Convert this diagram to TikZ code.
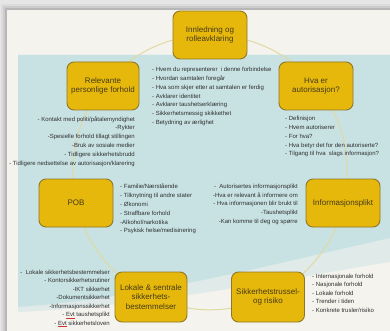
\documentclass[tikz,border=0pt]{standalone}
\usepackage{fontspec}
\setmainfont{Liberation Sans}
\definecolor{outerbg}{HTML}{E6E6E6}
\definecolor{slidebg}{HTML}{F4F3EE}
\definecolor{bluebg}{HTML}{C8E2E3}
\definecolor{ringcol}{HTML}{E0D9A2}
\definecolor{boxfill}{HTML}{E6B80C}
\definecolor{boxedge}{HTML}{8E7828}
\definecolor{boxtext}{HTML}{463A16}
\definecolor{listtext}{HTML}{2F2F2F}
\definecolor{spellred}{HTML}{D03030}
\newcommand\spellerr[1]{{\color{spellred}\underline{\color{listtext}#1}}}
\begin{document}
\begin{tikzpicture}[x=1pt,y=-1pt,
  stage/.style={draw=boxedge, line width=0.9pt, fill=boxfill, rounded corners=7pt,
    minimum width=74pt, minimum height=48pt, align=center, text=boxtext,
    font=\fontsize{8}{9.5}\selectfont, inner sep=2pt},
  itemsl/.style={anchor=north west, align=left, inner sep=0pt, text=listtext,
    font=\fontsize{6}{8.8}\selectfont},
  itemsr/.style={anchor=north east, align=right, inner sep=0pt, text=listtext,
    font=\fontsize{6}{8.8}\selectfont},
  tight/.style={font=\fontsize{6}{8.5}\selectfont}
]
\useasboundingbox (0,0) rectangle (390,331);
% background and slide with shadow
\fill[outerbg] (0,0) rectangle (390,331);
\foreach \d/\o in {6/0.04,4/0.07,2/0.10} {
  \fill[black,opacity=\o] (7-\d,10-\d) rectangle (395,336);
}
\fill[slidebg] (7,10) rectangle (395,336);
% blue band with soft lower edge
\fill[bluebg, opacity=0.45] (18,55) -- (390,55) -- (390,262)
  .. controls (280,280) and (150,306) .. (18,312) -- cycle;
\fill[bluebg] (18,55) -- (390,55) -- (390,238)
  .. controls (280,262) and (150,298) .. (18,307) -- cycle;
% ring
\draw[ringcol, line width=1pt] (210,172.4) circle [radius=137.4pt];

% stages
\node[stage] (intro) at (210,35) {Innledning og\\rolleavklaring};
\node[stage, minimum width=72pt] (pers) at (103,86) {Relevante\\personlige forhold};
\node[stage] (auth) at (316,86) {Hva er\\autorisasjon?};
\node[stage] (pob) at (76,203) {POB};
\node[stage] (info) at (343,203) {Informasjonsplikt};
\node[stage, minimum width=72pt, minimum height=50pt] (lok) at (151,297) {Lokale \& sentrale\\sikkerhets-\\bestemmelser};
\node[stage, minimum width=73pt, minimum height=50pt] (risk) at (268,297) {Sikkerhetstrussel-\\og risiko};

% lists
\node[itemsl] (introlist) at (152,67.1) {- Hvem du representerer \ i denne forbindelse\\- Hvordan samtalen foregår\\- Hva som skjer etter at samtalen er ferdig\\- Avklarer identitet\\- Avklarer taushetserklæring\\- Sikkerhetsmessig skikkethet\\- Betydning av ærlighet};
\node[itemsr] (perslist) at (135,116.1) {- Kontakt med politi/påtalemyndighet\\-Rykter\\-Spesielle forhold tillagt stillingen\\-Bruk av sosiale medier\\- Tidligere sikkerhetsbrudd\\- Tidligere nedsettelse av autorisasjon/klarering};
\node[itemsl] (authlist) at (285,116.1) {- Definisjon\\- Hvem autoriserer\\- For hva?\\- Hva betyr det for den autoriserte?\\- Tilgang til hva \ slags informasjon?};
\node[itemsl] (poblist) at (120,183.8) {- Familie/Nærstående\\- Tilknytning til andre stater\\- Økonomi\\- Straffbare forhold\\-Alkohol/narkotika\\- Psykisk helse/medisinering};
\node[itemsr] (infolist) at (298,183.8) {- \ Autorisertes informasjonsplikt\\-Hva er relevant å informere om\\- Hva informasjonen blir brukt til\\-Taushetsplikt\\-Kan komme til deg og spørre};
\node[itemsr, tight] (loklist) at (110,269.5) {- \ Lokale sikkerhetsbestemmelser\\- Kontorsikkerhetsrutiner\\-IKT sikkerhet\\-Dokumentsikkerhet\\-Informasjonssikkerhet\\- \spellerr{Evt} taushetsplikt\\- \spellerr{Evt} sikkerhetsloven};
\node[itemsl, tight] (risklist) at (312,273.8) {- Internasjonale forhold\\- Nasjonale forhold\\- Lokale forhold\\- Trender i tiden\\- Konkrete trusler/risiko};
\end{tikzpicture}
\end{document}
